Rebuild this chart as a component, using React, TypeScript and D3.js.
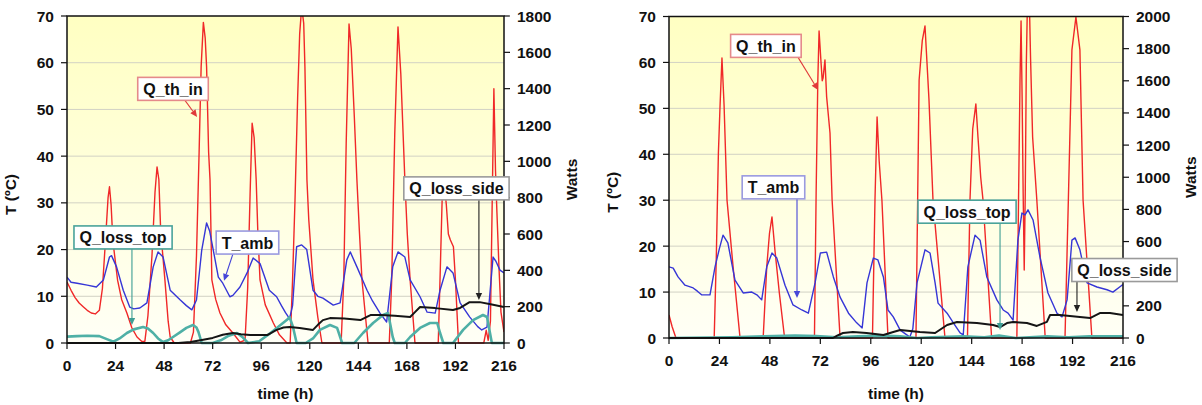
import React from 'react';
import * as d3 from 'd3';

type P = [number, number];

const HOUR_TICKS = [0, 24, 48, 72, 96, 120, 144, 168, 192, 216];
const TEMP_TICKS = [0, 10, 20, 30, 40, 50, 60, 70];
const WATT_TICKS_LEFT = [0, 200, 400, 600, 800, 1000, 1200, 1400, 1600, 1800];
const WATT_TICKS_RIGHT = [0, 200, 400, 600, 800, 1000, 1200, 1400, 1600, 1800, 2000];

// ---------- Left chart (hours, value) ----------
const L_QTH: P[] = [[0,336],[2,290],[4,250],[6,220],[8,200],[10,180],[12,165],[14,160],[16,180],[17.5,300],[19,560],[20.3,800],[21,860],[21.8,760],[22.7,560],[25,346],[27,240],[29.6,165],[32,85],[34.6,33],[37,8],[38.5,10],[40,150],[42,480],[43.5,830],[44.5,969],[45.4,900],[46.3,620],[48.4,346],[50,120],[51,33],[53,0],[61,0],[62.5,60],[64,480],[65.3,1050],[66.3,1520],[67.4,1765],[68.3,1680],[69,1520],[70,1050],[70.7,897],[71.6,347],[73.5,240],[75.6,165],[78.5,100],[82,55],[85.5,5],[88,15],[89.3,300],[90.5,820],[91.5,1210],[92.5,1130],[93.5,900],[94.3,620],[95.4,347],[98,210],[102,110],[105,45],[108.7,0],[110.3,0],[111.5,350],[112.7,787],[114,1350],[115,1700],[116,1850],[117,1760],[117.6,1520],[118.6,897],[119.5,680],[121.6,347],[124,140],[126,0],[135.5,0],[136.8,350],[138,1100],[139.4,1756],[140.5,1620],[142,1250],[143.3,897],[144.5,620],[145.8,347],[148.8,0],[159.3,0],[160.5,350],[162,1150],[163.6,1740],[165,1480],[167,897],[168.2,600],[169.6,347],[172,0],[183.5,0],[184.5,400],[185.5,820],[186.5,880],[187.5,760],[188.5,600],[189.5,567],[191,530],[192,347],[193.5,0],[206,0],[207.2,70],[208.2,15],[209.3,120],[210.2,800],[211,1400],[211.8,950],[212.5,720],[213.5,420],[214.5,170],[216,60]];
const L_TAMB: P[] = [[0,14.1],[2,13],[5,12.8],[10,12.4],[14.5,12],[18,13.5],[21,18.4],[22,18.7],[24.5,16.3],[27.8,11.3],[31,7.7],[33,7.3],[36,7.5],[39.5,8.6],[42.6,16.3],[45,19.5],[47.5,18.4],[51,11.3],[56,9.2],[59,8],[61.7,7.1],[64,9.2],[66.6,19.9],[69,25.7],[70.5,24],[72.3,19.9],[74.8,14.1],[77,12.8],[80.5,9.9],[82,10.2],[85.5,12],[89,15],[92,18.2],[95.4,17],[100,11.3],[103.6,9.9],[106,8],[108,6.5],[110,5.2],[111.5,8],[113.5,20.6],[116,21],[118.5,20],[121.6,11.3],[124,10],[126.5,9.6],[131.6,8.1],[135,8.6],[138.3,17.8],[140,19.5],[143.3,16.3],[148.3,11.3],[151,9],[154.7,6.4],[158,4.5],[161,16.3],[163.6,19.5],[167,18.4],[169.6,13.5],[174.5,9.9],[178,6.6],[182,6.4],[184.4,11.3],[187.8,16.3],[190.8,15],[194.3,8.6],[199,5.6],[203,3.5],[205,2.8],[207.6,3.4],[210.6,18.4],[212,17.5],[214,15.6],[216,15]];
const L_QTOP: P[] = [[0,35],[5,38],[10,40],[16,38],[20,20],[23,7],[26,25],[29.6,55],[33,75],[37.6,88],[40,80],[42.6,55],[45,25],[47.5,5],[50,15],[52.4,33],[56,60],[59,83],[62.3,99],[64,85],[65,60],[66.6,0],[72,0],[76,15],[80,40],[84,55],[87,30],[89.5,0],[95,10],[100,50],[104,85],[108.6,126],[110,143],[111.7,88],[113.5,0],[118,0],[121.6,25],[125,72],[130,99],[133.5,83],[136,0],[142,0],[146.3,55],[151.3,110],[156.2,154],[158.7,165],[161,33],[162,0],[167,0],[169.6,33],[174.5,83],[179.4,110],[183,110],[184.4,55],[186,0],[190.8,0],[195.8,72],[200.7,126],[205.6,154],[207.6,143],[210,0],[216,0]];
const L_QSIDE: P[] = [[0,0],[55,0],[61,5],[66,15],[72,28],[77,45],[82,55],[86,48],[90.5,44],[99,44],[103.6,72],[107,85],[110,88],[115,83],[121.6,72],[124,100],[126.5,126],[130,137],[137,135],[145,126],[150,154],[155,154],[162,150],[169.6,143],[172,170],[174.5,198],[182,192],[190.8,182],[194.3,193],[199,225],[204,225],[210,212],[216,198]];

// ---------- Right chart ----------
const R_QTH: P[] = [[0,143],[1.5,70],[3.3,0],[21.5,0],[22.5,500],[23.5,1150],[24.3,1450],[25.2,1742],[26.2,1450],[27.6,858],[30.5,442],[33.8,0],[44.8,0],[46.5,442],[47.8,650],[49,753],[50.4,547],[52.5,280],[55,0],[69.2,0],[70,900],[70.8,1600],[71.4,1910],[72.3,1720],[72.9,1600],[73.3,1617],[74.2,1730],[75,1500],[76.6,1275],[77.6,858],[81.4,0],[96.8,0],[98,858],[99,1375],[100,1100],[101.3,858],[104.2,0],[117.5,0],[118.3,858],[119,1605],[120.5,1850],[121.8,1941],[123,1650],[123.7,1480],[125.6,858],[131.3,0],[142,0],[143.2,858],[144.5,1300],[146,1456],[147,1250],[148.3,1000],[149.4,858],[153.5,0],[165.5,0],[166.3,858],[167,1600],[167.5,1972],[168,1500],[168.5,900],[169,423],[169.5,900],[170,1700],[170.5,2060],[171.5,2060],[172,1750],[173,1250],[175,858],[179,0],[188.4,0],[190,858],[191.7,1792],[193.6,1997],[195.5,1792],[197,858],[201.2,0],[216,0]];
const R_TAMB: P[] = [[0,15.5],[2,15.2],[4.3,13.3],[7.6,11.5],[11.5,10.9],[13.5,10.2],[15.5,9.4],[19.5,9.4],[21.9,15.5],[24,19.5],[25.7,22.4],[28,20.7],[31.4,12.6],[35.3,9.8],[39.4,10],[41.8,9.4],[44.1,8.3],[46.5,15.5],[49,18.5],[51.3,17.4],[55.2,11.5],[59,7.2],[63.2,6.1],[66.3,5.4],[69.5,12],[72,18.5],[75,18.7],[78.2,13.3],[81.4,8.9],[85.4,5.4],[89.3,3.3],[91.9,2.2],[94.2,12],[97.2,17.4],[99.4,17],[102,13.3],[104.2,6.1],[106.7,4.6],[110,1.7],[114.6,0.2],[116,2],[118,12],[121.8,19.2],[124.2,18.5],[126.6,12],[128,7.6],[132.3,5.4],[135.3,3.3],[138.5,1.1],[140,0.7],[142.2,15.5],[145.6,22.4],[148,21.3],[151.2,13.3],[156,8.3],[159,6.1],[161.3,5.4],[163.7,3.9],[166,21.3],[167.9,27.2],[169.4,26.8],[170.8,27.9],[173.2,25.7],[176.5,17.6],[180.3,9.8],[184.6,5.4],[187,4.6],[189.4,8.3],[191.7,21.3],[193.2,21.8],[195.5,19.2],[198.9,12],[203.6,11.1],[208.4,10.5],[211.2,10],[215.5,11.5],[216,11.6]];
const R_QTOP: P[] = [[0,0],[30,5],[45,10],[60,15],[70,12],[80,5],[90,10],[100,15],[110,10],[118,0],[125,5],[140,10],[150,5],[157,15],[165,0],[180,10],[190,5],[200,10],[216,10]];
const R_QSIDE: P[] = [[0,0],[78,0],[80,15],[82.8,31],[87.5,37],[94,31],[102,19],[106.7,37],[110,50],[119.4,37],[126.6,31],[132.3,81],[137,100],[146.5,93],[154.2,81],[157.5,68],[160.8,93],[163.7,100],[170.3,93],[175,75],[179.8,100],[181.3,143],[186,143],[195.5,131],[200.3,124],[205,155],[209.8,155],[216,143]];

// Annotation labels: box centre (hours, degC), arrow from box bottom at ax to tip (tx, ty degC)
type Lab = { text: string; border: string; arrow: string; bx: number; by: number; ax: number; tx: number; ty: number };
const L_LABELS: Lab[] = [
  { text: 'Q_th_in', border: '#e58a8a', arrow: '#e03a3a', bx: 52.4, by: 54.4, ax: 58.3, tx: 64.3, ty: 48.4 },
  { text: 'Q_loss_top', border: '#4aa39a', arrow: '#3e9e94', bx: 27.7, by: 22.6, ax: 32.1, tx: 32.1, ty: 3.85 },
  { text: 'T_amb', border: '#9a9ae0', arrow: '#4646d8', bx: 89.2, by: 21.5, ax: 82, tx: 77.6, ty: 13.3 },
  { text: 'Q_loss_side', border: '#9a9a9a', arrow: '#222222', bx: 192.5, by: 33.1, ax: 203.6, tx: 203.6, ty: 9.2 },
];
const R_LABELS: Lab[] = [
  { text: 'Q_th_in', border: '#e58a8a', arrow: '#e03a3a', bx: 46.1, by: 63.6, ax: 61.4, tx: 70.9, ty: 54.0 },
  { text: 'T_amb', border: '#9a9ae0', arrow: '#4646d8', bx: 49.7, by: 32.8, ax: 60.9, tx: 60.9, ty: 8.7 },
  { text: 'Q_loss_top', border: '#4aa39a', arrow: '#3e9e94', bx: 141.8, by: 27.5, ax: 157.5, tx: 157.5, ty: 1.74 },
  { text: 'Q_loss_side', border: '#9a9a9a', arrow: '#222222', bx: 216.7, by: 14.8, ax: 194.1, tx: 194.1, ty: 5.66 },
];

const FONT = "'Liberation Sans', Arial, Helvetica, sans-serif";

let ctx: CanvasRenderingContext2D | null = null;
function measure(text: string, size: number) {
  if (!ctx) ctx = document.createElement('canvas').getContext('2d');
  if (!ctx) return text.length * size * 0.6;
  ctx.font = `bold ${size}px ${FONT}`;
  return ctx.measureText(text).width;
}

type ChartProps = {
  id: string;
  x0: number; x1: number; y0: number; y1: number;
  wMax: number; wTicks: number[];
  qth: P[]; tamb: P[]; qtop: P[]; qside: P[];
  labels: Lab[];
};

function Chart(p: ChartProps) {
  const x = d3.scaleLinear().domain([0, 216]).range([p.x0, p.x1]);
  const yT = d3.scaleLinear().domain([0, 70]).range([p.y1, p.y0]);
  const yW = d3.scaleLinear().domain([0, p.wMax]).range([p.y1, p.y0]);
  const lineW = d3.line<P>().x(d => x(d[0])).y(d => yW(d[1]));
  const lineT = d3.line<P>().x(d => x(d[0])).y(d => yT(d[1]));
  const midX = (p.x0 + p.x1) / 2;
  const midY = (p.y0 + p.y1) / 2;
  const boxH = 23;
  return (
    <g>
      <defs>
        <linearGradient id={`bg-${p.id}`} x1="0" y1="0" x2="0" y2="1">
          <stop offset="0%" stopColor="#ffffc2" />
          <stop offset="100%" stopColor="#fffff6" />
        </linearGradient>
        <clipPath id={`clip-${p.id}`}>
          <rect x={p.x0} y={p.y0} width={p.x1 - p.x0} height={p.y1 - p.y0 + 2} />
        </clipPath>
      </defs>
      <rect x={p.x0} y={p.y0} width={p.x1 - p.x0} height={p.y1 - p.y0} fill={`url(#bg-${p.id})`} />
      {TEMP_TICKS.filter(t => t > 0 && t < 70).map(t => (
        <line key={t} x1={p.x0} x2={p.x1} y1={yT(t)} y2={yT(t)} stroke="#d2d2c4" strokeWidth={1} />
      ))}
      <g clipPath={`url(#clip-${p.id})`} fill="none" strokeLinejoin="round">
        <path d={lineW(p.qth) || ''} stroke="#f02828" strokeWidth={1.4} />
        <path d={lineT(p.tamb) || ''} stroke="#3636d6" strokeWidth={1.4} />
        <path d={lineW(p.qtop) || ''} stroke="#4fb0a6" strokeWidth={2.6} />
        <path d={lineW(p.qside) || ''} stroke="#151515" strokeWidth={2} />
      </g>
      <rect x={p.x0} y={p.y0} width={p.x1 - p.x0} height={p.y1 - p.y0} fill="none" stroke="#111" strokeWidth={1.5} />
      {TEMP_TICKS.map(t => (
        <g key={t}>
          <line x1={p.x0 - 6} x2={p.x0} y1={yT(t)} y2={yT(t)} stroke="#111" strokeWidth={1.2} />
          <text x={p.x0 - 13} y={yT(t) + 5.5} textAnchor="end" fontSize={15.5} fontWeight="bold" fontFamily={FONT} fill="#111">{t}</text>
        </g>
      ))}
      {p.wTicks.map(t => (
        <g key={t}>
          <line x1={p.x1} x2={p.x1 + 6} y1={yW(t)} y2={yW(t)} stroke="#111" strokeWidth={1.2} />
          <text x={p.x1 + 13} y={yW(t) + 5.5} textAnchor="start" fontSize={15.5} fontWeight="bold" fontFamily={FONT} fill="#111">{t}</text>
        </g>
      ))}
      {HOUR_TICKS.map(t => (
        <g key={t}>
          <line x1={x(t)} x2={x(t)} y1={p.y1} y2={p.y1 + 6} stroke="#111" strokeWidth={1.2} />
          <text x={x(t)} y={p.y1 + 28} textAnchor="middle" fontSize={15.5} fontWeight="bold" fontFamily={FONT} fill="#111">{t}</text>
        </g>
      ))}
      <text x={midX} y={399} textAnchor="middle" fontSize={15.5} fontWeight="bold" fontFamily={FONT} fill="#111">time (h)</text>
      <text transform={`translate(${p.x0 - 51},${midY + 15}) rotate(-90)`} textAnchor="middle" fontSize={15.5} fontWeight="bold" fontFamily={FONT} fill="#111">T (ºC)</text>
      <text transform={`translate(${p.x1 + 73},${midY}) rotate(-90)`} textAnchor="middle" fontSize={15.5} fontWeight="bold" fontFamily={FONT} fill="#111">Watts</text>
      {p.labels.map((l, i) => {
        const w = measure(l.text, 16) + 11;
        const cx = x(l.bx), cy = yT(l.by);
        const sx = x(l.ax), sy = cy + boxH / 2;
        const ex = x(l.tx), ey = yT(l.ty);
        const ang = Math.atan2(ey - sy, ex - sx);
        const ah = 7, aw = 3.2;
        const bx = ex - ah * Math.cos(ang), by = ey - ah * Math.sin(ang);
        const px = -Math.sin(ang) * aw, py = Math.cos(ang) * aw;
        return (
          <g key={i}>
            <line x1={sx} y1={sy} x2={bx} y2={by} stroke={l.arrow} strokeWidth={1.1} />
            <polygon points={`${ex},${ey} ${bx + px},${by + py} ${bx - px},${by - py}`} fill={l.arrow} />
            <rect x={cx - w / 2} y={cy - boxH / 2} width={w} height={boxH} fill="#ffffff" stroke={l.border} strokeWidth={1.6} />
            <text x={cx} y={cy + 6} textAnchor="middle" fontSize={16} fontWeight="bold" fontFamily={FONT} fill="#111">{l.text}</text>
          </g>
        );
      })}
    </g>
  );
}

export default function App() {
  return (
    <svg width={1202} height={405} style={{ position: 'absolute', left: 0, top: 0, background: '#fff' }}>
      <rect x={0} y={0} width={1202} height={405} fill="#fff" />
      <Chart id="L" x0={67} x1={504} y0={16} y1={343} wMax={1800} wTicks={WATT_TICKS_LEFT}
        qth={L_QTH} tamb={L_TAMB} qtop={L_QTOP} qside={L_QSIDE} labels={L_LABELS} />
      <Chart id="R" x0={669} x1={1123} y0={16.5} y1={338} wMax={2000} wTicks={WATT_TICKS_RIGHT}
        qth={R_QTH} tamb={R_TAMB} qtop={R_QTOP} qside={R_QSIDE} labels={R_LABELS} />
    </svg>
  );
}
